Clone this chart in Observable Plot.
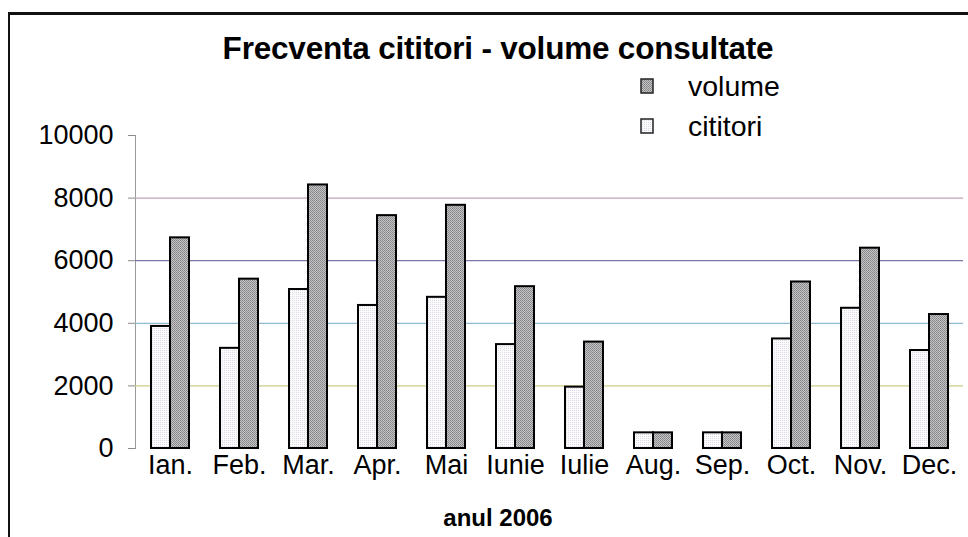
<!DOCTYPE html>
<html>
<head>
<meta charset="utf-8">
<script src="https://cdn.jsdelivr.net/npm/d3@7"></script>
<script src="https://cdn.jsdelivr.net/npm/@observablehq/plot@0.6"></script>
<style>
  body { margin: 0; background: #fff; }
  #chart { position: relative; width: 968px; height: 537px; overflow: hidden;
           font-family: "Liberation Sans", Arial, sans-serif; color: #000; background: #fff; }
  #box { position: absolute; left: 8px; top: 12px; width: 990px; height: 560px;
         border-left: 2px solid #111; border-top: 3px solid #111; }
  #title { position: absolute; left: 0; width: 996px; top: 30px; text-align: center;
           font-weight: bold; font-size: 31.5px; letter-spacing: -0.2px; white-space: nowrap; }
  #xtitle { position: absolute; left: 0; width: 996px; top: 504px; text-align: center;
            font-weight: bold; font-size: 24px; white-space: nowrap; }
  .leg { position: absolute; left: 640px; font-size: 28.5px; white-space: nowrap; }
  .leg svg { position: absolute; left: 0; top: 8px; }
  .leg span { position: absolute; left: 48px; top: 0; }
  #plot { position: absolute; left: 0; top: 0; }
  #plot g[aria-label="y-axis tick"] { stroke: #8a8a8a; }
  #plot [aria-label="frame"] { stroke: #9a9a9a; }
</style>
</head>
<body>
<div id="chart">
  <svg width="0" height="0" style="position:absolute">
    <defs>
      <!-- fine dither fills for the two series -->
      <pattern id="volPat" width="2" height="2" patternUnits="userSpaceOnUse">
        <rect width="2" height="2" fill="#c4c4c6"/>
        <rect x="0" y="0" width="1" height="1" fill="#848486"/>
        <rect x="1" y="1" width="1" height="1" fill="#908e92"/>
      </pattern>
      <pattern id="citPat" width="2" height="2" patternUnits="userSpaceOnUse">
        <rect width="2" height="2" fill="#fbfafc"/>
        <rect x="0" y="0" width="1" height="1" fill="#ddd8e2"/>
      </pattern>
    </defs>
  </svg>
  <div id="plot"></div>
  <div id="box"></div>
  <div id="title">Frecventa cititori - volume consultate</div>
  <div class="leg" style="top:70px"><svg width="14" height="16"><rect x="1" y="1" width="12" height="14" fill="url(#volPat)" stroke="#222" stroke-width="1.5"/></svg><span>volume</span></div>
  <div class="leg" style="top:110px"><svg width="14" height="16"><rect x="1" y="1" width="12" height="14" fill="url(#citPat)" stroke="#222" stroke-width="1.5"/></svg><span>cititori</span></div>
  <div id="xtitle">anul 2006</div>
</div>
<script>
// Monthly readers and volumes consulted, 2006
const months = ["Ian.", "Feb.", "Mar.", "Apr.", "Mai", "Iunie", "Iulie", "Aug.", "Sep.", "Oct.", "Nov.", "Dec."];
const cititori = [3900, 3200, 5080, 4570, 4830, 3320, 1960, 500, 500, 3500, 4480, 3130];
const volume = [6730, 5410, 8420, 7440, 7770, 5170, 3400, 500, 500, 5320, 6400, 4280];
const yTicks = [0, 2000, 4000, 6000, 8000, 10000];
const gridValues = [2000, 4000, 6000, 8000];

const rows = months.map((m, i) => ({month: m, cititori: cititori[i], volume: volume[i]}));

// layout of the band scale: each month's band holds the two bars side by side
const W = 968, H = 537, mL = 135, mR = 5, mT = 135, mB = 89;
const padIn = 0.45, padOut = 0.216;
const step = (W - mL - mR) / (months.length - padIn + 2 * padOut);
const half = step * (1 - padIn) / 2;

const gridColors = ["#cccc84", "#90bccf", "#7878ac", "#bfa2bd"];

const plot = Plot.plot({
  width: W,
  height: H,
  marginLeft: mL,
  marginRight: mR,
  marginTop: mT,
  marginBottom: mB,
  style: {fontFamily: "'Liberation Sans', Arial, sans-serif", fontSize: "27px", color: "#000", background: "transparent"},
  x: {domain: months, paddingInner: padIn, paddingOuter: padOut, label: null, tickSize: 0, tickPadding: 6},
  y: {domain: [0, 10000], ticks: yTicks, tickFormat: d => String(d), label: null, tickSize: 7, tickPadding: 15, line: true},
  marks: [
    Plot.ruleY(gridValues, {y: d => d, stroke: (d, i) => gridColors[i], strokeWidth: 1.3}),
    Plot.barY(rows, {x: "month", y: "cititori", fill: "url(#citPat)", stroke: "#000", strokeWidth: 2, insetLeft: 0, insetRight: half}),
    Plot.barY(rows, {x: "month", y: "volume", fill: "url(#volPat)", stroke: "#000", strokeWidth: 2, insetLeft: half, insetRight: 0})
  ]
});
document.getElementById("plot").appendChild(plot);
</script>
</body>
</html>
